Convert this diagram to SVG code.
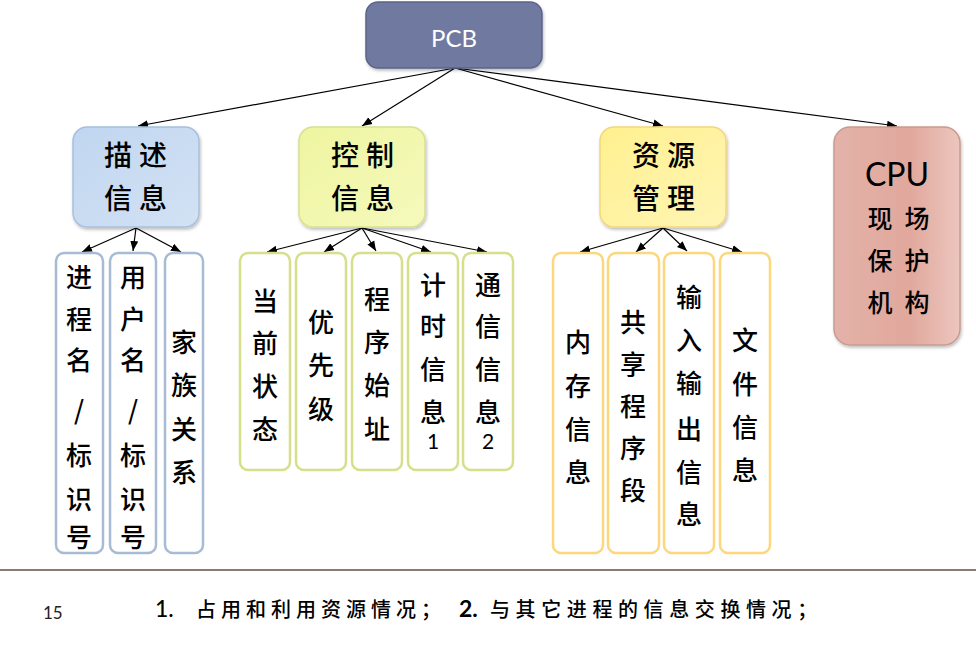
<svg xmlns="http://www.w3.org/2000/svg" width="976" height="645" viewBox="0 0 976 645">
  <defs>
    <linearGradient id="gBlue" x1="0" y1="0" x2="1" y2="1">
      <stop offset="0" stop-color="#c0d6f0"/>
      <stop offset="1" stop-color="#d3e2f4"/>
    </linearGradient>
    <linearGradient id="gGreen" x1="0" y1="0" x2="1" y2="1">
      <stop offset="0" stop-color="#eef5a0"/>
      <stop offset="1" stop-color="#f6f9bd"/>
    </linearGradient>
    <linearGradient id="gYellow" x1="0" y1="0" x2="1" y2="1">
      <stop offset="0" stop-color="#fff08f"/>
      <stop offset="1" stop-color="#fff5b5"/>
    </linearGradient>
    <linearGradient id="gPink" x1="0" y1="0" x2="1" y2="0">
      <stop offset="0" stop-color="#e3b2a8"/>
      <stop offset="0.6" stop-color="#e1a89d"/>
      <stop offset="1" stop-color="#ecc6be"/>
    </linearGradient>
    <filter id="shadow" x="-10%" y="-10%" width="130%" height="130%">
      <feDropShadow dx="1" dy="2" stdDeviation="1.5" flood-color="#000" flood-opacity="0.25"/>
    </filter>
    <marker id="arrow" viewBox="0 0 10 10" refX="10" refY="5" markerWidth="10" markerHeight="10" markerUnits="userSpaceOnUse" orient="auto">
      <path d="M0,1 L10,5 L0,9 Z" fill="#000"/>
    </marker>
  </defs>
  <style>
    .cat { stroke-width: 1.5; filter: url(#shadow); }
    .leaf { fill: #fff; stroke-width: 2.5; }
    .lb { stroke: #a7bcd4; }
    .lg { stroke: #d6df8c; }
    .ly { stroke: #fcd77e; }
    .zh { font-family: "Noto Sans CJK SC", "Noto Sans", sans-serif; font-weight: 500; fill: #000; text-anchor: middle; dominant-baseline: central; }
    .cat-t { font-size: 28px; }
    .leaf-t { font-size: 26px; }
    .conn line { stroke: #000; stroke-width: 1.2; marker-end: url(#arrow); }
  </style>

  <rect width="976" height="645" fill="#fff"/>

  <!-- connectors -->
  <g id="connectors" class="conn">
    <line x1="455" y1="68" x2="138" y2="126"/>
    <line x1="455" y1="68" x2="362" y2="126"/>
    <line x1="455" y1="68" x2="663" y2="126"/>
    <line x1="455" y1="68" x2="897" y2="126"/>

    <line x1="136" y1="228" x2="82" y2="252"/>
    <line x1="136" y1="228" x2="133" y2="251"/>
    <line x1="136" y1="228" x2="181" y2="252"/>

    <line x1="362" y1="228" x2="267" y2="252"/>
    <line x1="362" y1="228" x2="324" y2="252"/>
    <line x1="362" y1="228" x2="376" y2="251"/>
    <line x1="362" y1="228" x2="431" y2="252"/>
    <line x1="362" y1="228" x2="487" y2="252"/>

    <line x1="663" y1="228" x2="580" y2="252"/>
    <line x1="663" y1="228" x2="636" y2="252"/>
    <line x1="663" y1="228" x2="687" y2="251"/>
    <line x1="663" y1="228" x2="742" y2="252"/>
  </g>

  <!-- root -->
  <g id="pcb">
    <rect x="366" y="2" width="176" height="66" rx="12" fill="#6f7aa0" stroke="#5b6488" stroke-width="1.5" filter="url(#shadow)"/>
    <text x="454" y="37" font-family="Lato, 'Open Sans', sans-serif" font-size="24" fill="#fff" text-anchor="middle" dominant-baseline="central">PCB</text>
  </g>

  <!-- category nodes -->
  <g id="desc">
    <rect class="cat" x="73" y="127" width="126" height="100" rx="14" fill="url(#gBlue)" stroke="#a7c0de"/>
    <text class="zh cat-t" x="118 153" y="154 154">描述</text>
    <text class="zh cat-t" x="118 153" y="197 197">信息</text>
  </g>
  <g id="ctrl">
    <rect class="cat" x="299" y="127" width="126" height="100" rx="14" fill="url(#gGreen)" stroke="#d9e08e"/>
    <text class="zh cat-t" x="345 380" y="154 154">控制</text>
    <text class="zh cat-t" x="345 380" y="197 197">信息</text>
  </g>
  <g id="res">
    <rect class="cat" x="600" y="127" width="126" height="100" rx="14" fill="url(#gYellow)" stroke="#f3d77c"/>
    <text class="zh cat-t" x="646 681" y="154 154">资源</text>
    <text class="zh cat-t" x="646 681" y="197 197">管理</text>
  </g>
  <g id="cpu">
    <rect class="cat" x="834" y="127" width="126" height="218" rx="16" fill="url(#gPink)" stroke="#c99a90"/>
    <text x="897" y="173" font-family="Lato, 'Open Sans', sans-serif" font-size="32" fill="#000" text-anchor="middle" dominant-baseline="central">CPU</text>
    <text class="zh" font-size="25" x="880 917" y="217 217">现场</text>
    <text class="zh" font-size="25" x="880 917" y="259 259">保护</text>
    <text class="zh" font-size="25" x="880 917" y="301 301">机构</text>
  </g>

  <!-- leaves of 描述信息 -->
  <g id="d1">
    <rect class="leaf lb" x="56" y="253" width="47" height="300" rx="8"/>
    <text class="zh leaf-t" x="79 79 79 79 79 79 79" y="275 317 358 408 453 497 535">进程名/标识号</text>
  </g>
  <g id="d2">
    <rect class="leaf lb" x="110" y="253" width="46" height="300" rx="8"/>
    <text class="zh leaf-t" x="133 133 133 133 133 133 133" y="275 317 358 408 453 497 535">用户名/标识号</text>
  </g>
  <g id="d3">
    <rect class="leaf lb" x="165" y="253" width="38" height="300" rx="8"/>
    <text class="zh leaf-t" x="184 184 184 184" y="340 383 427 470">家族关系</text>
  </g>

  <!-- leaves of 控制信息 -->
  <g id="c1">
    <rect class="leaf lg" x="240" y="253" width="50" height="217" rx="8"/>
    <text class="zh leaf-t" x="265 265 265 265" y="299 341 384 427">当前状态</text>
  </g>
  <g id="c2">
    <rect class="leaf lg" x="296" y="253" width="50" height="217" rx="8"/>
    <text class="zh leaf-t" x="321 321 321" y="320 363 407">优先级</text>
  </g>
  <g id="c3">
    <rect class="leaf lg" x="352" y="253" width="50" height="217" rx="8"/>
    <text class="zh leaf-t" x="377 377 377 377" y="297 340 383 427">程序始址</text>
  </g>
  <g id="c4">
    <rect class="leaf lg" x="408" y="253" width="50" height="217" rx="8"/>
    <text class="zh leaf-t" x="433 433 433 433" y="283 324 367 410">计时信息</text>
    <text x="433" y="440" font-family="Lato, sans-serif" font-size="21" text-anchor="middle" dominant-baseline="central">1</text>
  </g>
  <g id="c5">
    <rect class="leaf lg" x="463" y="253" width="50" height="217" rx="8"/>
    <text class="zh leaf-t" x="488 488 488 488" y="283 324 367 410">通信信息</text>
    <text x="488" y="440" font-family="Lato, sans-serif" font-size="21" text-anchor="middle" dominant-baseline="central">2</text>
  </g>

  <!-- leaves of 资源管理 -->
  <g id="r1">
    <rect class="leaf ly" x="553" y="253" width="50" height="300" rx="8"/>
    <text class="zh leaf-t" x="578 578 578 578" y="340 384 427 470">内存信息</text>
  </g>
  <g id="r2">
    <rect class="leaf ly" x="608" y="253" width="51" height="300" rx="8"/>
    <text class="zh leaf-t" x="633 633 633 633 633" y="320 362 404 446 488">共享程序段</text>
  </g>
  <g id="r3">
    <rect class="leaf ly" x="664" y="253" width="50" height="300" rx="8"/>
    <text class="zh leaf-t" x="689 689 689 689 689 689" y="295 338 381 427 470 512">输入输出信息</text>
  </g>
  <g id="r4">
    <rect class="leaf ly" x="720" y="253" width="50" height="300" rx="8"/>
    <text class="zh leaf-t" x="745 745 745 745" y="338 382 425 468">文件信息</text>
  </g>

  <!-- footer -->
  <line x1="0" y1="570" x2="976" y2="570" stroke="#8c7b73" stroke-width="2"/>
  <text x="43" y="619" font-family="Lato, 'Open Sans', sans-serif" font-size="17" fill="#222">15</text>
  <text y="617" font-family="'Noto Sans CJK SC', 'Noto Sans', sans-serif" font-size="20" font-weight="500" fill="#000">
    <tspan x="155" font-family="Lato, 'Open Sans', sans-serif" font-size="23">1.</tspan>
    <tspan x="196" letter-spacing="5">占用和利用资源情况；</tspan>
    <tspan x="459" font-family="Lato, 'Open Sans', sans-serif" font-size="23" font-weight="bold">2.</tspan>
    <tspan x="490" letter-spacing="5.6">与其它进程的信息交换情况；</tspan>
  </text>
</svg>
